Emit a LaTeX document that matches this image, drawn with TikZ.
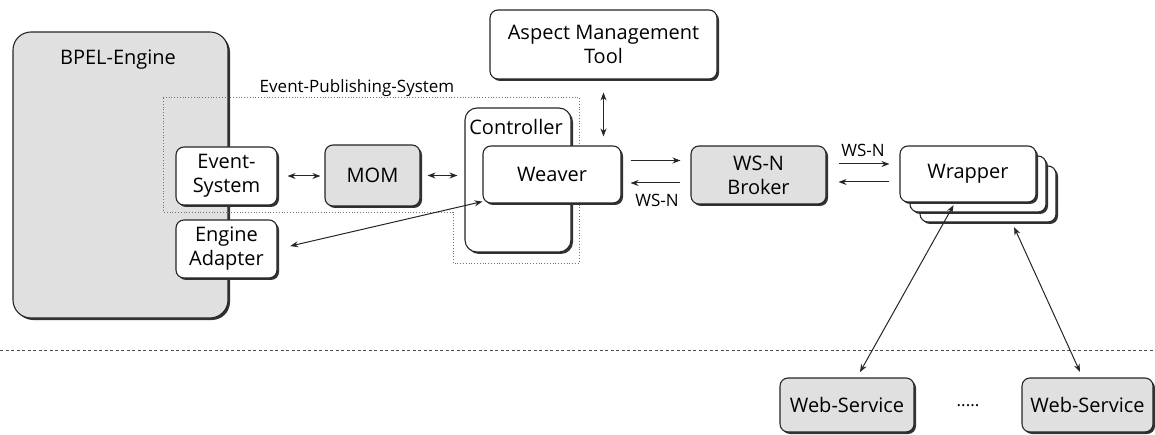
\documentclass[tikz,border=0pt]{standalone}
\usepackage{fontspec}
\setmainfont{Open Sans}
\usetikzlibrary{shadows,arrows.meta}
\begin{document}
\begin{tikzpicture}[x=1pt,y=-1pt,
  box/.style={draw=black!85, line width=1.1pt, rounded corners=8pt, fill=white,
    drop shadow={shadow xshift=2pt,shadow yshift=-2pt,fill=black!80,opacity=1},
    align=center, inner sep=0pt, font=\fontsize{20}{24}\selectfont},
  gbox/.style={box, fill=black!12},
  arr/.style={{Stealth[length=8pt,width=6pt]}-{Stealth[length=8pt,width=6pt]}, line width=1pt, draw=black!85},
  one/.style={-{Stealth[length=8pt,width=6pt]}, line width=1pt, draw=black!85},
  lbl/.style={font=\fontsize{17}{20}\selectfont, inner sep=0pt},
  txt/.style={font=\fontsize{20}{24}\selectfont, inner sep=0pt}]
\useasboundingbox (0,0) rectangle (1155,435);
\fill[white] (0,0) rectangle (1155,435);

% BPEL engine
\node[gbox, rounded corners=18pt, minimum width=215pt, minimum height=286pt] (bpel) at (120.5,175) {};
\node[txt] (bpeltxt) at (118,60) {BPEL-Engine};

% Event-Publishing-System region
\draw[dotted, draw=black!55, line width=0.8pt] (163,97) -- (579,97) -- (579,263) -- (453,263) -- (453,212) -- (163,212) -- cycle;
\node[lbl] (epslbl) at (357,88) {Event-Publishing-System};

% boxes
\node[box, minimum width=101pt, minimum height=58pt] (eventsys) at (226.5,176) {Event-\\System};
\node[box, minimum width=101pt, minimum height=58pt] (adapter) at (226.5,249) {Engine\\Adapter};
\node[gbox, minimum width=95pt, minimum height=61pt] (mom) at (372.5,175.5) {MOM};
\node[box, rounded corners=12pt, minimum width=106pt, minimum height=144pt] (controller) at (518,180) {};
\node[txt] (ctrltxt) at (516,127) {Controller};
\node[box, minimum width=138pt, minimum height=57pt] (weaver) at (552,174.5) {Weaver};
\node[box, minimum width=227pt, minimum height=69pt] (amt) at (603.5,44.5) {Aspect Management\\Tool};
\node[gbox, minimum width=135pt, minimum height=58pt] (broker) at (758.5,175) {WS-N\\Broker};
\node[box, minimum width=136pt, minimum height=56pt] (wrap3) at (988,194) {};
\node[box, minimum width=136pt, minimum height=56pt] (wrap2) at (978,184) {};
\node[box, minimum width=136pt, minimum height=56pt] (wrapper) at (968,174) {Wrapper};
\node[gbox, minimum width=134pt, minimum height=54pt] (ws1) at (847,405) {Web-Service};
\node[gbox, minimum width=131pt, minimum height=54pt] (ws2) at (1087.5,405) {Web-Service};
\node[lbl] (dots) at (968,406) {.....};

% separator
\draw[dash pattern=on 3pt off 2.5pt, draw=black!70, line width=0.9pt] (0,350) -- (1155,350);

% connectors
\draw[arr, shorten <=10pt, shorten >=4pt] (eventsys.east) -- (eventsys.east -| mom.west);
\draw[arr, shorten <=7pt, shorten >=7pt] (mom.east) -- (mom.east -| controller.west);
\draw[arr, shorten <=13pt] (adapter.east) -- ([yshift=2pt]weaver.south west);
\draw[arr, shorten <=13pt, shorten >=9pt] (amt.south) -- (amt.south |- weaver.north);
\draw[one, shorten <=9pt, shorten >=10pt] ([yshift=14pt]weaver.east) -- ([yshift=14pt]weaver.east -| broker.west);
\draw[one, shorten <=10pt, shorten >=9pt] ([yshift=-8pt]broker.west) -- ([yshift=-8pt]broker.west -| weaver.east);
\node[lbl] (wsn1) at (657,200) {WS-N};
\draw[one, shorten <=12pt, shorten >=10pt] ([yshift=11pt]broker.east) -- ([yshift=11pt]broker.east -| wrapper.west);
\draw[one, shorten <=10pt, shorten >=12pt] ([yshift=-8pt]wrapper.west) -- ([yshift=-8pt]wrapper.west -| broker.east);
\node[lbl] (wsn2) at (863,150) {WS-N};
\draw[arr, shorten <=3pt, shorten >=6pt] ([xshift=-13pt]wrapper.south) -- ([xshift=10pt]ws1.north);
\draw[arr, shorten <=5pt, shorten >=6pt] ([xshift=24pt]wrap3.south) -- ([xshift=-5pt]ws2.north);
\end{tikzpicture}
\end{document}
